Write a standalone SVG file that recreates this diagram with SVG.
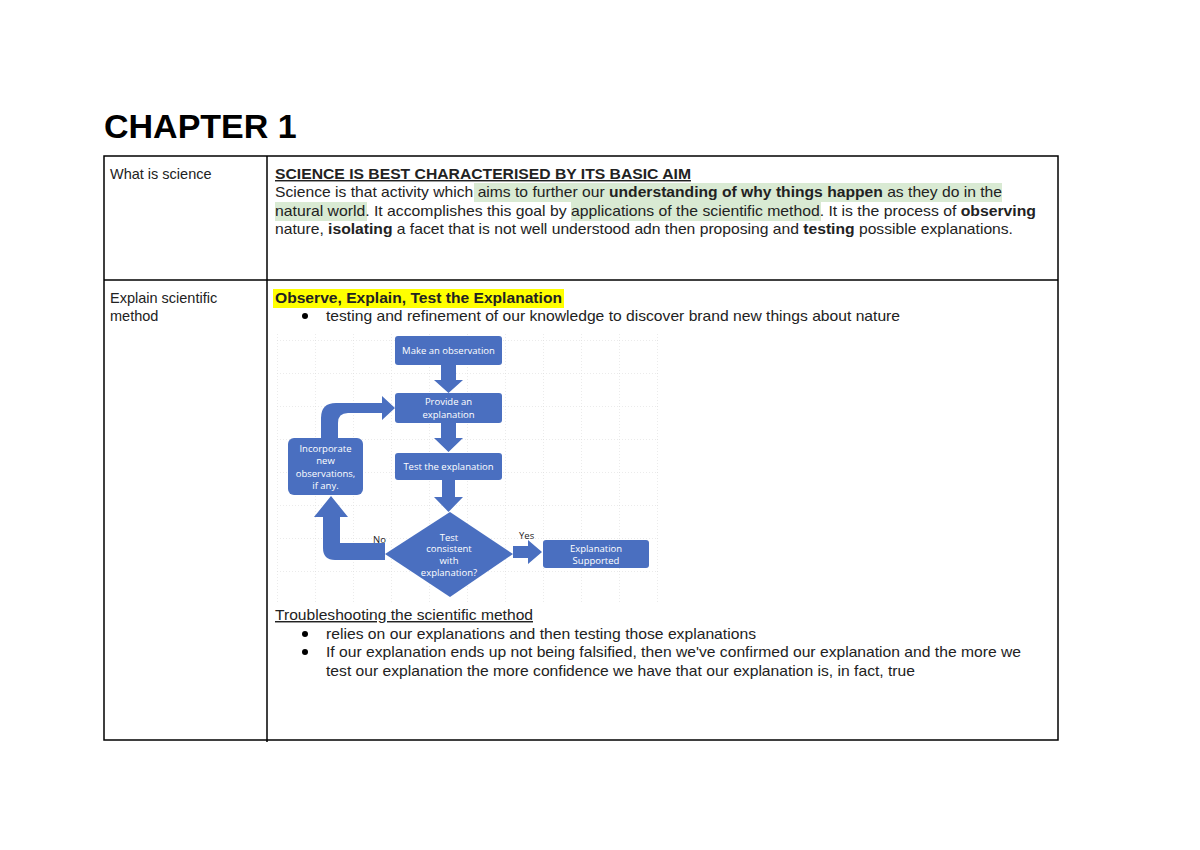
<svg xmlns="http://www.w3.org/2000/svg" width="1200" height="850" viewBox="0 0 1200 850">
<defs>
<pattern id="grid" width="38" height="33" patternUnits="userSpaceOnUse" x="277" y="340">
<path d="M0 0H38M0 0V33" fill="none" stroke="#d8d8d8" stroke-width="1" stroke-dasharray="1,2"/>
</pattern>
</defs>
<style>
text{font-family:"Liberation Sans",Arial,sans-serif;font-size:14.5px;fill:#222}
.b{font-weight:bold}
.fc{fill:#4a6fc0}
.ft{font-family:"Open Sans","Liberation Sans",sans-serif;font-size:9.5px;fill:#fff;text-anchor:middle}
.ln{stroke:#000;stroke-width:1.5;fill:none}
</style>
<rect width="1200" height="850" fill="#fff"/>
<text x="104" y="138" style="font-size:34px;font-weight:bold;fill:#000">CHAPTER 1</text>
<g id="table">
<rect x="104" y="156" width="954" height="584" class="ln"/>
<line x1="104" y1="280" x2="1058" y2="280" class="ln"/>
<line x1="267" y1="156" x2="267" y2="742" class="ln"/>
</g>
<g id="row1">
<text x="110" y="179">What is science</text>
<rect x="474" y="183" width="528" height="19" fill="#d9ead3"/>
<rect x="275" y="202" width="92" height="19" fill="#d9ead3"/>
<rect x="571" y="202" width="250" height="19" fill="#d9ead3"/>
<text x="275" y="179" class="b" text-decoration="underline" textLength="416" lengthAdjust="spacingAndGlyphs">SCIENCE IS BEST CHARACTERISED BY ITS BASIC AIM</text>
<text x="275" y="197" textLength="727" lengthAdjust="spacingAndGlyphs">Science is that activity which aims to further our <tspan class="b">understanding of why things happen</tspan> as they do in the</text>
<text x="275" y="216" textLength="761" lengthAdjust="spacingAndGlyphs">natural world.  It accomplishes this goal by applications of the scientific method. It is the process of <tspan class="b">observing</tspan></text>
<text x="275" y="234" textLength="738" lengthAdjust="spacingAndGlyphs">nature, <tspan class="b">isolating</tspan> a facet that is not well understood adn then proposing and <tspan class="b">testing</tspan> possible explanations.</text>
</g>
<g id="row2">
<text x="110" y="303">Explain scientific</text>
<text x="110" y="321">method</text>
<rect x="273" y="289" width="291" height="19" fill="#ffff00"/>
<text x="275" y="303" class="b" textLength="287" lengthAdjust="spacingAndGlyphs">Observe, Explain, Test the Explanation</text>
<circle cx="305" cy="316" r="3" fill="#000"/>
<text x="326" y="321" textLength="574" lengthAdjust="spacingAndGlyphs">testing and refinement of our knowledge to discover brand new things about nature</text>
<text x="275" y="620" text-decoration="underline" textLength="258" lengthAdjust="spacingAndGlyphs">Troubleshooting the scientific method</text>
<circle cx="305" cy="634" r="3" fill="#000"/>
<text x="326" y="639" textLength="430" lengthAdjust="spacingAndGlyphs">relies on our explanations and then testing those explanations</text>
<circle cx="305" cy="652" r="3" fill="#000"/>
<text x="326" y="657" textLength="695" lengthAdjust="spacingAndGlyphs">If our explanation ends up not being falsified, then we've confirmed our explanation and the more we</text>
<text x="326" y="676" textLength="589" lengthAdjust="spacingAndGlyphs">test our explanation the more confidence we have that our explanation is, in fact, true</text>
</g>
<rect x="276" y="334" width="382" height="268" fill="url(#grid)"/>
<g id="connectors" class="fc">
<path d="M441 365H456V380H463L448.5 393L434 380H441Z"/>
<path d="M441 423H456V438H463L448.5 452L434 438H441Z"/>
<path d="M442 480H455V497H463L448.5 512L434 497H442Z"/>
<path d="M513 546H528V540L542 552L528 564V558H513Z"/>
<path d="M321 438V418Q321 403 336 403H382V396L395 408L382 420V413H348Q338 413 338 423V438Z"/>
<path d="M385 543H340V517H348L331 496L314 517H323V548Q323 560 335 560H385Z"/>
</g>
<g id="n1"><rect x="395" y="336" width="107" height="29" rx="3" class="fc"/><text x="448.5" y="354" class="ft">Make an observation</text></g>
<g id="n2"><rect x="395" y="393" width="107" height="30" rx="3" class="fc"/><text x="448.5" y="405" class="ft">Provide an</text><text x="448.5" y="418" class="ft">explanation</text></g>
<g id="n3"><rect x="395" y="453" width="107" height="27" rx="3" class="fc"/><text x="448.5" y="470" class="ft">Test the explanation</text></g>
<g id="n4"><path d="M450 512L513 554L450 597L385 554Z" class="fc"/><text x="449" y="541" class="ft">Test</text><text x="449" y="552" class="ft">consistent</text><text x="449" y="564" class="ft">with</text><text x="449" y="576" class="ft">explanation?</text></g>
<g id="n5"><rect x="543" y="540" width="106" height="28" rx="3" class="fc"/><text x="596" y="552" class="ft">Explanation</text><text x="596" y="564" class="ft">Supported</text></g>
<g id="n6"><rect x="288" y="438" width="75" height="57" rx="6" class="fc"/><text x="325.5" y="452" class="ft">Incorporate</text><text x="325.5" y="464" class="ft">new</text><text x="325.5" y="477" class="ft">observations,</text><text x="325.5" y="489" class="ft">if any.</text></g>
<text x="373" y="543" style="font-size:9.5px;font-family:'Open Sans',sans-serif;fill:#222">No</text>
<text x="519" y="539" style="font-size:9.5px;font-family:'Open Sans',sans-serif;fill:#222">Yes</text>
</svg>
